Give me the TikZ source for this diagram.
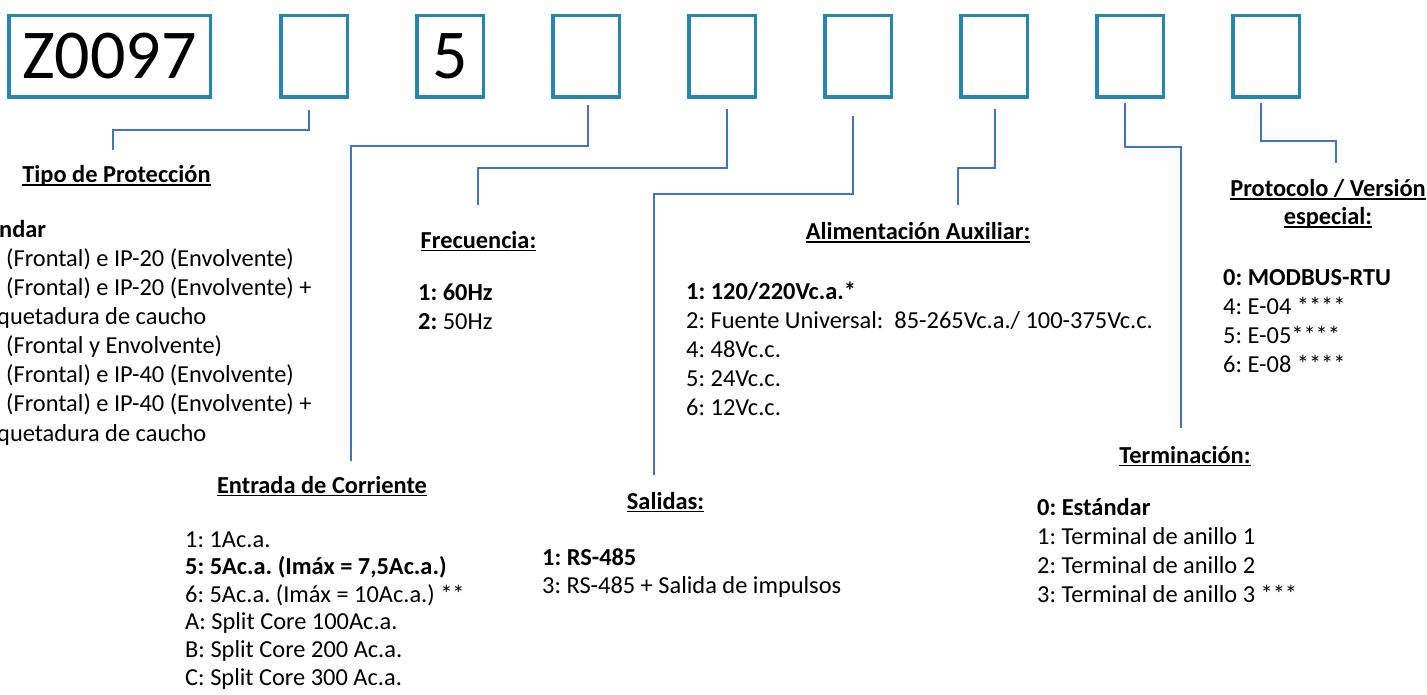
\documentclass[tikz,border=0pt]{standalone}
\usepackage{fontspec}
\setmainfont{Carlito}
\frenchspacing
\newcommand{\undl}[1]{\setbox0\hbox{#1}\rlap{\rule[-3.2pt]{\wd0}{1.7pt}}\box0}
\definecolor{boxteal}{RGB}{37,135,172}
\definecolor{linkblue}{RGB}{68,114,196}
\begin{document}
\begin{tikzpicture}[x=1pt,y=-1pt,
  digit/.style={draw=boxteal, line width=3.5pt, minimum width=66.5pt,
    minimum height=81.5pt, inner sep=0pt, font=\fontsize{70}{84}\selectfont},
  link/.style={draw=linkblue, line width=1.4pt},
  head/.style={anchor=base, inner sep=0pt, font=\bfseries, align=center},
  items/.style={anchor=base west, inner sep=0pt, align=left}]
  \fontsize{24.4}{29}\selectfont
  \useasboundingbox (0,0) rectangle (1427,695);
  % code boxes
  \node[digit, minimum width=201.5pt] (b1) at (109.5,56.5) {Z0097};
  \foreach \k in {2,...,9}
    \node[digit] (b\k) at ({314+136*(\k-2)},56.5) {};
  \node[inner sep=0pt, font=\fontsize{70}{84}\selectfont] (d5) at (b3) {5};
  % headings (anchored on the last baseline)
  \node[head] (tipo) at (116.5,183) {\undl{Tipo de Protección}};
  \node[head] (entrada) at (322,493) {\undl{Entrada de Corriente}};
  \node[head] (frec) at (478.5,248) {\undl{Frecuencia:}};
  \node[head] (sal) at (665.5,509) {\undl{Salidas:}};
  \node[head] (alim) at (918,240) {\undl{Alimentación Auxiliar:}};
  \node[head] (term) at (1185,463) {\undl{Terminación:}};
  \node[head, font=\bfseries\fontsize{24.4}{28}\selectfont] (proto) at (1328,225)
    {\undl{Protocolo / Versión}\\\undl{especial:}};
  % option lists (anchored on the last baseline)
  \node[items, font=\fontsize{24.4}{29.1}\selectfont] (tipolist) at (-1,441)
    {\textbf{ndar}\\
     \hspace*{7pt}(Frontal) e IP-20 (Envolvente)\\
     \hspace*{7pt}(Frontal) e IP-20 (Envolvente) +\\
     \hspace*{-2pt}quetadura de caucho\\
     \hspace*{7pt}(Frontal y Envolvente)\\
     \hspace*{7pt}(Frontal) e IP-40 (Envolvente)\\
     \hspace*{7pt}(Frontal) e IP-40 (Envolvente) +\\
     \hspace*{-2pt}quetadura de caucho};
  \node[items, font=\fontsize{24.4}{27.6}\selectfont] (entradalist) at (185,685)
    {1: 1Ac.a.\\
     \textbf{5: 5Ac.a. (Imáx = 7,5Ac.a.)}\\
     6: 5Ac.a. (Imáx = 10Ac.a.) **\\
     A: Split Core 100Ac.a.\\
     B: Split Core 200 Ac.a.\\
     C: Split Core 300 Ac.a.};
  \node[items] (freclist) at (418,329) {\textbf{1: 60Hz}\\\textbf{2:} 50Hz};
  \node[items, font=\fontsize{24.4}{28.8}\selectfont] (alimlist) at (686,415)
    {\textbf{1: 120/220Vc.a.*}\\
     2: Fuente Universal:\ \ 85-265Vc.a./ 100-375Vc.c.\\
     4: 48Vc.c.\\
     5: 24Vc.c.\\
     6: 12Vc.c.};
  \node[items, font=\fontsize{24.4}{28}\selectfont] (sallist) at (542,593)
    {\textbf{1: RS-485}\\3: RS-485 + Salida de impulsos};
  \node[items] (termlist) at (1037,602)
    {\textbf{0: Estándar}\\
     1: Terminal de anillo 1\\
     2: Terminal de anillo 2\\
     3: Terminal de anillo 3 ***};
  \node[items] (protolist) at (1223,372)
    {\textbf{0: MODBUS-RTU}\\
     4: E-04 ****\\
     5: E-05****\\
     6: E-08 ****};
  % connector ends
  \coordinate (e1) at (113,150);
  \coordinate (e2) at (351,461);
  \coordinate (e3) at (478,205);
  \coordinate (e4) at (654,475);
  \coordinate (e5) at (958,205);
  \coordinate (e6) at (1181,428);
  \coordinate (e7) at (1336,163);
  \draw[link] ([xshift=-5pt,yshift=-11pt]b2.south) -- ++(0,20) -| (e1);
  \draw[link] ([xshift=2pt,yshift=-6pt]b4.south) -- ++(0,41) -| (e2);
  \draw[link] ([xshift=5pt,yshift=-10pt]b5.south) -- ++(0,59) -| (e3);
  \draw[link] ([xshift=-5pt,yshift=-17pt]b6.south) -- ++(0,78) -| (e4);
  \draw[link] ([xshift=1pt,yshift=-10pt]b7.south) -- ++(0,59) -| (e5);
  \draw[link] ([xshift=-5pt,yshift=-4pt]b8.south) -- ++(0,44) -| (e6);
  \draw[link] ([xshift=-5pt,yshift=-4pt]b9.south) -- ++(0,38) -| (e7);
\end{tikzpicture}
\end{document}
